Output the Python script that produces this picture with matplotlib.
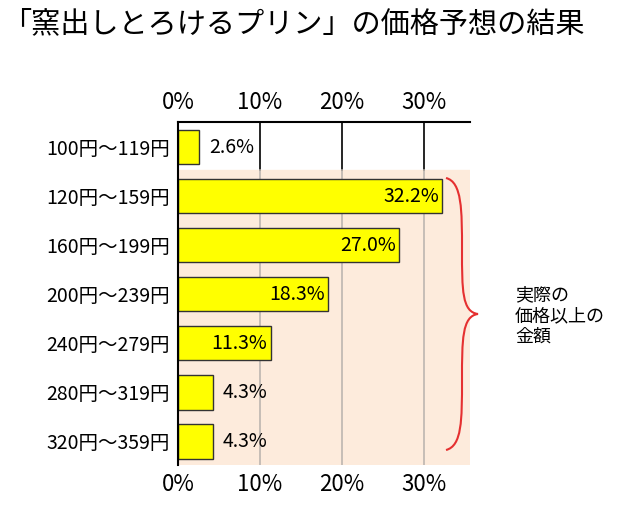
import matplotlib.pyplot as plt
from matplotlib.path import Path
from matplotlib.patches import PathPatch

plt.rcParams['font.family'] = 'Noto Sans CJK JP'

categories = ["100円～119円", "120円～159円", "160円～199円", "200円～239円",
              "240円～279円", "280円～319円", "320円～359円"]
values = [2.6, 32.2, 27.0, 18.3, 11.3, 4.3, 4.3]
tick_vals = [0, 10, 20, 30]

W, H = 640, 518
fig = plt.figure(figsize=(6.4, 5.18), dpi=100)
ax = fig.add_axes([178 / W, 1 - 465 / H, 292 / W, 343 / H])
ax.set_xlim(0, 35.6)
ax.set_ylim(6.48, -0.51)

# shaded area for "actual price or more"
ax.axhspan(0.47, 6.48, color='#fdebdc', zorder=0)
for t in tick_vals[1:]:
    ax.plot([t, t], [-0.51, 0.47], color='black', lw=1.2, zorder=1)
    ax.plot([t, t], [0.47, 6.48], color='#bdb6b0', lw=1.2, zorder=1)

ys = range(len(values))
ax.barh(ys, values, height=0.7, color='#ffff00', edgecolor='#333333', lw=1, zorder=2)
for y, v in zip(ys, values):
    if v < 6:
        ax.text(v + 1.2, y, f"{v:.1f}%", va='center', ha='left', fontsize=14, zorder=3)
    else:
        ax.text(v - 0.4, y, f"{v:.1f}%", va='center', ha='right', fontsize=14, zorder=3)

ax.set_yticks(list(ys))
ax.set_yticklabels(categories, fontsize=14)
ax.set_xticks(tick_vals)
ax.set_xticklabels([f"{t}%" for t in tick_vals], fontsize=16)
ax.tick_params(axis='x', top=True, labeltop=True, length=0, pad=6)
ax.tick_params(axis='y', length=0, pad=6)
ax.spines['right'].set_visible(False)
ax.spines['bottom'].set_visible(False)
ax.spines['top'].set_linewidth(1.5)
ax.spines['left'].set_linewidth(1.5)

# red brace
def px(x, y):
    return (x / W, 1 - y / H)
verts = [px(446, 178), px(462, 182), px(462, 210), px(462, 250),
         px(462, 290), px(462, 312), px(478, 314),
         px(462, 316), px(462, 340), px(462, 380),
         px(462, 420), px(462, 446), px(446, 450)]
codes = [Path.MOVETO] + [Path.CURVE4] * 12
fig.patches.append(PathPatch(Path(verts, codes), transform=fig.transFigure,
                             fill=False, edgecolor='#e53030', lw=1.5))
fig.text(515 / W, 1 - 316 / H, "実際の\n価格以上の\n金額", fontsize=13,
         va='center', ha='left', linespacing=1.2)

fig.text(2 / W, 1 - 24 / H, "「窯出しとろけるプリン」の価格予想の結果", fontsize=21,
         va='center', ha='left')

fig.savefig('out.png', dpi=100)
